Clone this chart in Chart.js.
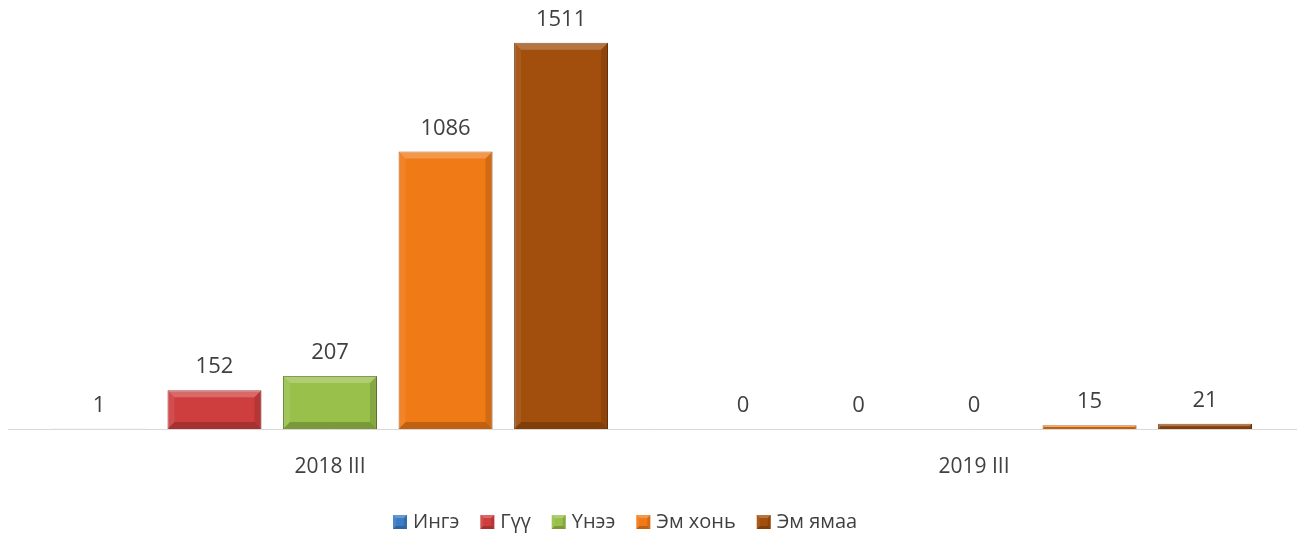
<!DOCTYPE html>
<html>
<head>
<meta charset="utf-8">
<script src="https://cdn.jsdelivr.net/npm/chart.js@4/dist/chart.umd.min.js"></script>
<style>
  html, body { margin: 0; padding: 0; background: #fff; }
  #wrap { width: 1304px; height: 542px; }
</style>
</head>
<body>
<div id="wrap"><canvas id="barChart"></canvas></div>
<script>
(function () {
    "use strict";

    var categories = ["2018 III", "2019 III"];
    var seriesNames = ["Ингэ", "Гүү", "Үнээ", "Эм хонь", "Эм ямаа"];
    var ingeValues = [1, 0];
    var guuValues = [152, 0];
    var uneeValues = [207, 0];
    var emKhonValues = [1086, 15];
    var emYamaaValues = [1511, 21];

    var colors = ["#3b7dc4", "#cf3e3e", "#98c04a", "#f07a16", "#a24e0c"];
    var borders = ["#25578c", "#8c2020", "#5f7f28", "#a8500a", "#6a3006"];

    var allValues = [ingeValues, guuValues, uneeValues, emKhonValues, emYamaaValues];
    var fontFamily = "'Open Sans', sans-serif";

    var datasets = [];
    for (var i = 0; i < seriesNames.length; i++) {
        datasets.push({
            label: seriesNames[i],
            data: allValues[i],
            backgroundColor: colors[i],
            borderColor: borders[i],
            borderWidth: 1,
            categoryPercentage: 0.897,
            barPercentage: 0.813
        });
    }

    function drawBevel(ctx, l, t, r, b, s) {
        ctx.fillStyle = "rgba(255,255,255,0.22)";
        ctx.beginPath();
        ctx.moveTo(l, t); ctx.lineTo(r, t); ctx.lineTo(r - s, t + s); ctx.lineTo(l + s, t + s);
        ctx.closePath(); ctx.fill();
        ctx.fillStyle = "rgba(255,255,255,0.08)";
        ctx.beginPath();
        ctx.moveTo(l, t); ctx.lineTo(l + s, t + s); ctx.lineTo(l + s, b - s); ctx.lineTo(l, b);
        ctx.closePath(); ctx.fill();
        ctx.fillStyle = "rgba(0,0,0,0.12)";
        ctx.beginPath();
        ctx.moveTo(r, t); ctx.lineTo(r - s, t + s); ctx.lineTo(r - s, b - s); ctx.lineTo(r, b);
        ctx.closePath(); ctx.fill();
        ctx.fillStyle = "rgba(0,0,0,0.2)";
        ctx.beginPath();
        ctx.moveTo(l, b); ctx.lineTo(l + s, b - s); ctx.lineTo(r - s, b - s); ctx.lineTo(r, b);
        ctx.closePath(); ctx.fill();
    }

    // soft bevel on each bar, like the office "bevel" shape effect
    var bevel = {
        id: "bevel",
        afterDatasetsDraw: function (chart) {
            var ctx = chart.ctx;
            ctx.save();
            chart.data.datasets.forEach(function (ds, di) {
                chart.getDatasetMeta(di).data.forEach(function (bar) {
                    var half = bar.width / 2;
                    var h = bar.base - bar.y;
                    if (h < 3) return;
                    drawBevel(ctx, bar.x - half, bar.y, bar.x + half, bar.base, Math.min(7, h / 2, half));
                });
            });
            ctx.restore();
        }
    };

    // draws the value above each bar
    var valueLabels = {
        id: "valueLabels",
        afterDatasetsDraw: function (chart) {
            var ctx = chart.ctx;
            ctx.save();
            ctx.font = "22px " + fontFamily;
            ctx.fillStyle = "#404040";
            ctx.textAlign = "center";
            ctx.textBaseline = "middle";
            chart.data.datasets.forEach(function (ds, di) {
                var meta = chart.getDatasetMeta(di);
                meta.data.forEach(function (bar, idx) {
                    ctx.fillText(String(ds.data[idx]), bar.x, bar.y - 23);
                });
            });
            ctx.restore();
        }
    };

    // legend drawn by hand so the box/text spacing matches the original
    var bottomLegend = {
        id: "bottomLegend",
        afterDraw: function (chart) {
            var ctx = chart.ctx;
            var x = 393, y = 522, box = 14;
            ctx.save();
            ctx.font = "20px " + fontFamily;
            ctx.textBaseline = "middle";
            ctx.textAlign = "left";
            chart.data.datasets.forEach(function (ds) {
                ctx.fillStyle = ds.backgroundColor;
                ctx.fillRect(x, y - box / 2, box, box);
                drawBevel(ctx, x, y - box / 2, x + box, y + box / 2, 3);
                ctx.fillStyle = "#404040";
                ctx.fillText(ds.label, x + box + 6, y);
                x += box + 6 + ctx.measureText(ds.label).width + 21;
            });
            ctx.restore();
        }
    };

    new Chart(document.getElementById("barChart"), {
        type: "bar",
        data: { labels: categories, datasets: datasets },
        options: {
            responsive: true,
            maintainAspectRatio: false,
            animation: false,
            layout: { padding: { left: 8, right: 8, top: 20, bottom: 0 } },
            plugins: {
                tooltip: { enabled: false },
                legend: { display: false }
            },
            scales: {
                x: {
                    grid: { display: false, drawTicks: false },
                    border: { display: true, color: "#d9d9d9", width: 1 },
                    ticks: {
                        padding: 25,
                        color: "#404040",
                        font: { size: 21, family: fontFamily }
                    },
                    afterFit: function (scale) { scale.height = 113; }
                },
                y: {
                    display: false,
                    min: 0,
                    max: 1600
                }
            }
        },
        plugins: [bevel, valueLabels, bottomLegend]
    });
})();
</script>
</body>
</html>
